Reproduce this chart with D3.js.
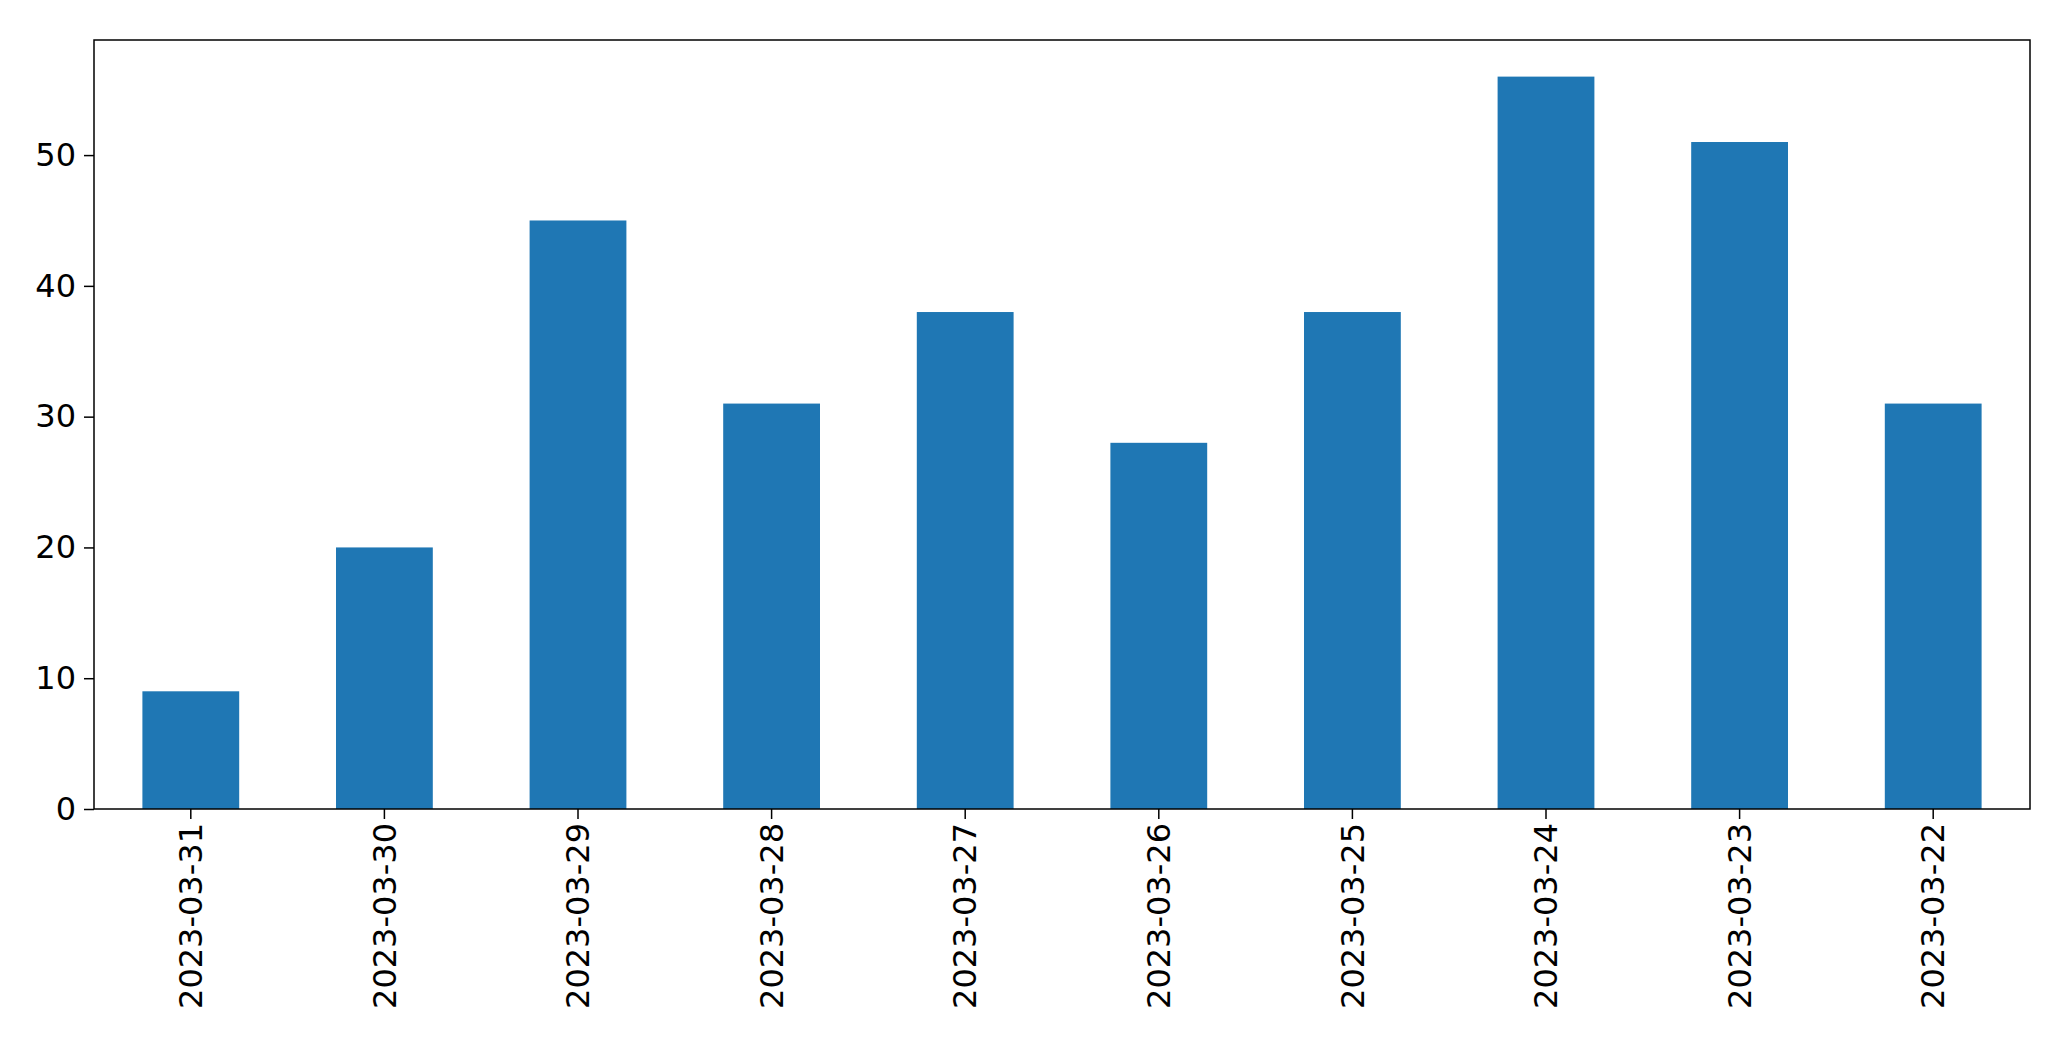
<!DOCTYPE html>
<html><head><meta charset="utf-8">
<script src="https://cdn.jsdelivr.net/npm/d3@7"></script>
<style>body{margin:0;background:#fff}text{font-family:"DejaVu Sans",sans-serif}</style>
</head><body><div id="plot"></div>
<script>
const dates = ["2023-03-31","2023-03-30","2023-03-29","2023-03-28","2023-03-27","2023-03-26","2023-03-25","2023-03-24","2023-03-23","2023-03-22"];
const counts = [9, 20, 45, 31, 38, 28, 38, 56, 51, 31];
const yTicks = [0, 10, 20, 30, 40, 50];

const width = 2071, height = 1061;
const m = {left: 94, right: 41, top: 40, bottom: 252};

const svg = d3.select("div#plot").append("svg")
  .attr("width", width).attr("height", height);

const x = d3.scaleBand().domain(dates)
  .range([m.left, width - m.right]).paddingInner(0.5).paddingOuter(0.25);
const y = d3.scaleLinear().domain([0, d3.max(counts) * 1.05])
  .range([height - m.bottom, m.top]);

svg.selectAll("rect.bar").data(counts).enter().append("rect")
  .attr("class", "bar")
  .attr("x", (d, i) => x(dates[i]))
  .attr("y", d => y(d))
  .attr("width", x.bandwidth())
  .attr("height", d => y(0) - y(d))
  .attr("fill", "#1f77b4");

const xAxis = svg.append("g")
  .attr("transform", `translate(0,${height - m.bottom})`)
  .call(d3.axisBottom(x).tickSize(10).tickPadding(10));
xAxis.selectAll("text")
  .style("font-size", "32px")
  .attr("transform", "rotate(-90)")
  .attr("text-anchor", "end")
  .attr("x", -14).attr("y", 0).attr("dy", "0.35em");

const yAxis = svg.append("g")
  .attr("transform", `translate(${m.left},0)`)
  .call(d3.axisLeft(y).tickValues(yTicks).tickSize(10).tickPadding(8));
yAxis.selectAll("text").style("font-size", "32px");

svg.selectAll(".domain").remove();
svg.selectAll(".tick line").attr("stroke", "#000").attr("stroke-width", 1.5);
svg.append("rect")
  .attr("x", m.left).attr("y", m.top)
  .attr("width", width - m.left - m.right)
  .attr("height", height - m.top - m.bottom)
  .attr("fill", "none").attr("stroke", "#000").attr("stroke-width", 1.5);
</script></body></html>
